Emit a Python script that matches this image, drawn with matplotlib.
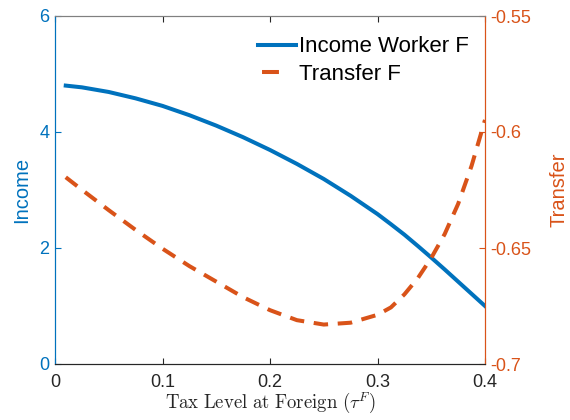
import matplotlib
matplotlib.use("Agg")
import matplotlib.pyplot as plt
from matplotlib.lines import Line2D

plt.rcParams['font.family'] = ['Liberation Sans', 'DejaVu Sans']
plt.rcParams['mathtext.fontset'] = 'cm'

# Tax level at foreign
tau = [0.01, 0.025, 0.05, 0.075, 0.1, 0.125, 0.15, 0.175, 0.2, 0.225,
       0.25, 0.275, 0.3, 0.3125, 0.325, 0.3375, 0.35, 0.3625, 0.375,
       0.3875, 0.4]
# Income of worker F (left axis)
income_f = [4.80, 4.77, 4.69, 4.58, 4.45, 4.29, 4.11, 3.91, 3.69, 3.45,
            3.19, 2.90, 2.585, 2.41, 2.23, 2.035, 1.835, 1.63, 1.42,
            1.21, 1.0]
# Transfer F (right axis)
transfer_f = [-0.6195, -0.6249, -0.6337, -0.6422, -0.6503, -0.6578,
              -0.6645, -0.6712, -0.6768, -0.6811, -0.6830, -0.6822,
              -0.6788, -0.6756, -0.6700, -0.6630, -0.6543, -0.6440,
              -0.6310, -0.6146, -0.5948]

x_ticks = [0, 0.1, 0.2, 0.3, 0.4]
left_ticks = [0, 2, 4, 6]
right_ticks = [-0.7, -0.65, -0.6, -0.55]

blue = '#0072BD'
orange = '#D95319'
dark = '#262626'

fig = plt.figure(figsize=(5.7, 4.2), dpi=100)
ax = fig.add_axes([55/570, 1 - 364/420, 430/570, 348/420])
ax2 = ax.twinx()

ax.plot(tau, income_f, color=blue, lw=2.9)
ax2.plot(tau, transfer_f, color=orange, lw=2.9, dashes=(3.6, 2.4))

ax.set_xlim(0, 0.4)
ax.set_ylim(0, 6)
ax2.set_ylim(-0.7, -0.55)
ax.set_xticks(x_ticks)
ax.set_xticklabels(['0', '0.1', '0.2', '0.3', '0.4'])
ax.set_yticks(left_ticks)
ax2.set_yticks(right_ticks)
ax2.set_yticklabels(['-0.7', '-0.65', '-0.6', '-0.55'])

ax.tick_params(axis='x', direction='in', top=True, length=4, width=0.8,
               colors=dark, labelsize=13, pad=7)
ax.tick_params(axis='y', direction='in', length=4, width=0.8,
               colors=blue, labelsize=13, pad=4)
ax2.tick_params(axis='y', direction='in', length=4, width=0.8,
                colors=orange, labelsize=13, pad=4)
ax2.tick_params(axis='x', top=False, bottom=False)

for a in (ax, ax2):
    a.spines['top'].set_color('#808080')
    a.spines['bottom'].set_color(dark)
    a.spines['left'].set_color(blue)
    a.spines['right'].set_color(orange)
    for s in a.spines.values():
        s.set_linewidth(0.8)

ax.set_ylabel('Income', color=blue, fontsize=14.5, labelpad=6)
ax2.set_ylabel('Transfer', color=orange, fontsize=14.5, labelpad=13)
ax.set_xlabel(r'$\mathrm{Tax\ Level\ at\ Foreign\ }(\tau^F)$',
              fontsize=13.5, color=dark, labelpad=0)

# legend handles: the dashed entry shows a single short dash
h1 = Line2D([], [], color=blue, lw=2.9)
h2 = Line2D([], [], color=orange, lw=2.9, ls=(11.2, (4.2, 8.0)))
ax2.legend(handles=[h1, h2], labels=['Income Worker F', 'Transfer F'],
           loc='upper right', bbox_to_anchor=(1 - 3/430, 1 - 7/348),
           frameon=False, fontsize=16, handlelength=1.72,
           handletextpad=0.12, borderaxespad=0.2, labelspacing=0.3)

fig.savefig('out.png', dpi=100)
